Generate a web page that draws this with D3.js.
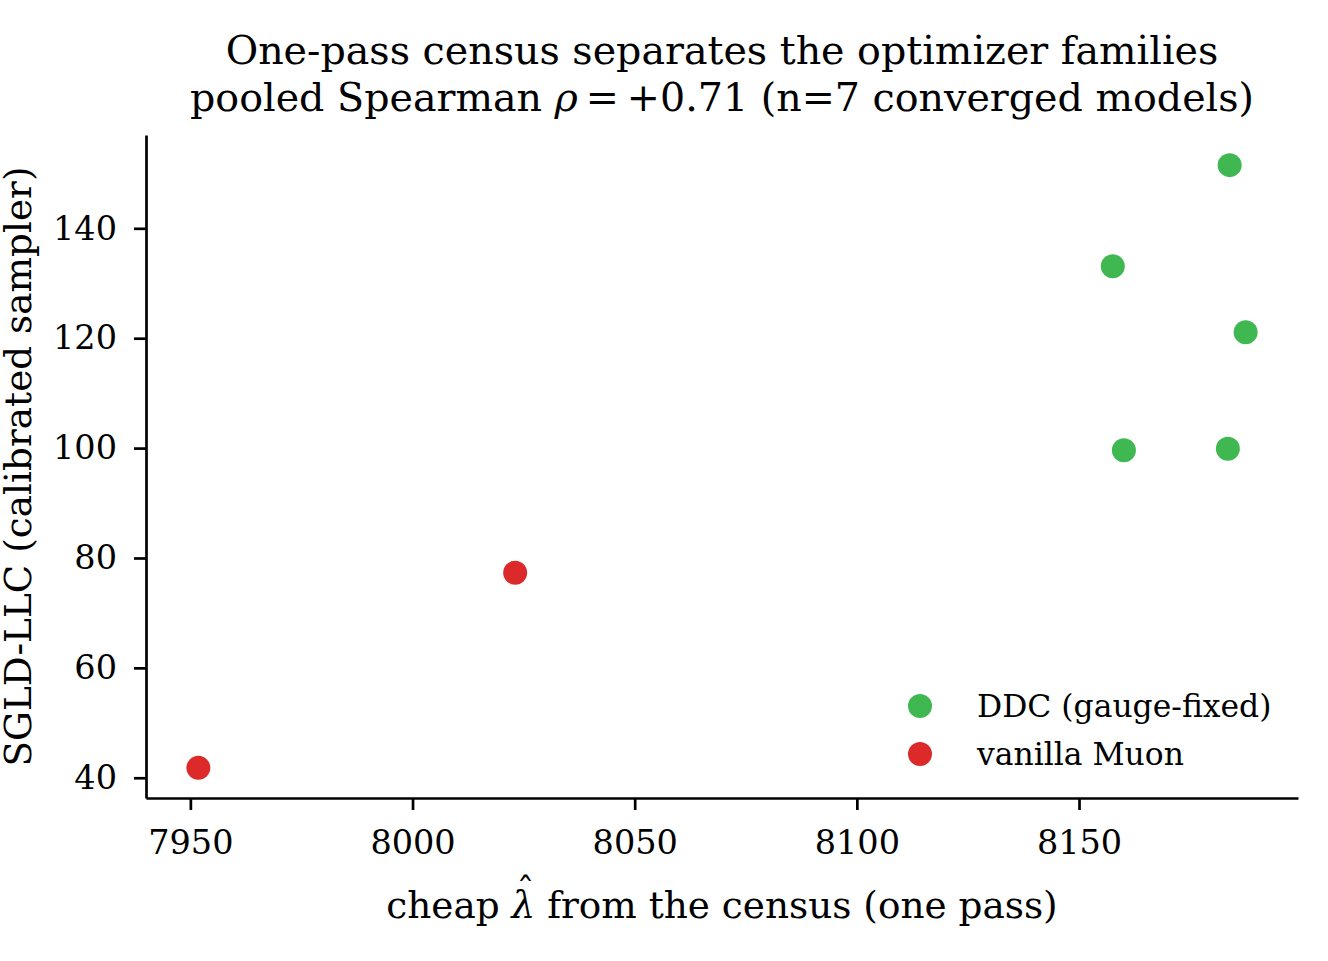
<!DOCTYPE html>
<html>
<head>
<meta charset="utf-8">
<script src="https://cdn.jsdelivr.net/npm/d3@7"></script>
<style>
  body { margin: 0; background: #fff; }
  text { font-family: "DejaVu Serif", serif; fill: #000; }
</style>
</head>
<body>
<div id="chart"></div>
<script>
// data
const GROUPS = ["DDC (gauge-fixed)", "vanilla Muon"];
const COLORS = ["#40b851", "#dc2a2a"];
const DDC_X = [8183.9, 8157.6, 8187.5, 8160.1, 8183.5];
const DDC_Y = [151.5, 133.1, 121.1, 99.6, 99.9];
const MUON_X = [8023.1, 7951.8];
const MUON_Y = [77.3, 41.8];
const X_TICKS = [7950, 8000, 8050, 8100, 8150];
const Y_TICKS = [40, 60, 80, 100, 120, 140];

const FRAME_WIDTH = 1328;
const FRAME_HEIGHT = 961;
const MARGINS = {left: 146, right: 30, top: 135, bottom: 163};
const VIS_WIDTH = FRAME_WIDTH - MARGINS.left - MARGINS.right;
const VIS_HEIGHT = FRAME_HEIGHT - MARGINS.top - MARGINS.bottom;

const points = [];
DDC_X.forEach((x, i) => points.push({x: x, y: DDC_Y[i], g: 0}));
MUON_X.forEach((x, i) => points.push({x: x, y: MUON_Y[i], g: 1}));

// matplotlib style 5% margins
function padded(ext) {
  const p = (ext[1] - ext[0]) * 0.05;
  return [ext[0] - p, ext[1] + p];
}

const X_SCALE = d3.scaleLinear()
                  .domain(padded(d3.extent(points, d => d.x)))
                  .range([0, VIS_WIDTH]);
const Y_SCALE = d3.scaleLinear()
                  .domain(padded(d3.extent(points, d => d.y)))
                  .range([VIS_HEIGHT, 0]);

const svg = d3.select("#chart")
              .append("svg")
                .attr("width", FRAME_WIDTH)
                .attr("height", FRAME_HEIGHT);

const plot = svg.append("g")
                .attr("transform", "translate(" + MARGINS.left + "," + MARGINS.top + ")");

// axes
const xAxis = plot.append("g")
    .attr("transform", "translate(0," + VIS_HEIGHT + ")")
    .call(d3.axisBottom(X_SCALE).tickValues(X_TICKS).tickSize(12).tickPadding(20).tickSizeOuter(0).tickFormat(d3.format("d")));
const yAxis = plot.append("g")
    .call(d3.axisLeft(Y_SCALE).tickValues(Y_TICKS).tickSize(12).tickPadding(17).tickSizeOuter(0).tickFormat(d3.format("d")));

[xAxis, yAxis].forEach(a => {
  a.select(".domain").attr("stroke", "#000").attr("stroke-width", 2.7);
  a.selectAll(".tick line").attr("stroke", "#000").attr("stroke-width", 2.7);
  a.selectAll(".tick text").attr("font-family", "DejaVu Serif").attr("font-size", 33.5);
});

// points
plot.append("g")
  .selectAll("circle")
  .data(points)
  .enter()
  .append("circle")
    .attr("cx", d => X_SCALE(d.x))
    .attr("cy", d => Y_SCALE(d.y))
    .attr("r", 12)
    .attr("fill", d => COLORS[d.g]);

// legend
const legend = plot.append("g")
    .attr("transform", "translate(" + (920 - MARGINS.left) + "," + (706 - MARGINS.top) + ")");
GROUPS.forEach((g, i) => {
  legend.append("circle")
      .attr("cx", 0).attr("cy", i * 48).attr("r", 12)
      .attr("fill", COLORS[i]);
  legend.append("text")
      .attr("x", 57).attr("y", i * 48)
      .attr("dy", "0.35em")
      .attr("font-size", 31.4)
      .text(g);
});

// title
const cx = MARGINS.left + VIS_WIDTH / 2;
svg.append("text")
    .attr("x", cx).attr("y", 64)
    .attr("text-anchor", "middle")
    .attr("font-size", 39.6)
    .text("One-pass census separates the optimizer families");
const t2 = svg.append("text")
    .attr("x", cx).attr("y", 111)
    .attr("text-anchor", "middle")
    .attr("font-size", 39.6);
t2.append("tspan").text("pooled Spearman ");
t2.append("tspan").attr("font-style", "italic").text("ρ");
t2.append("tspan").text("\u2009=\u2009+0.71 (n=7 converged models)");

// axis labels
const xl = svg.append("text")
    .attr("x", cx).attr("y", 918)
    .attr("text-anchor", "middle")
    .attr("font-size", 37.4);
xl.append("tspan").text("cheap ");
xl.append("tspan").attr("font-style", "italic").text("λ");
xl.append("tspan").text(" from the census (one pass)");

// hat over lambda, placed from the glyph's box
const lam = xl.node().getExtentOfChar(6);
svg.append("text")
    .attr("x", lam.x + lam.width / 2 + 2)
    .attr("y", lam.y + 20)
    .attr("text-anchor", "middle")
    .attr("font-size", 36)
    .text("\u02c6");

svg.append("text")
    .attr("transform", "translate(31," + (MARGINS.top + VIS_HEIGHT / 2) + ") rotate(-90)")
    .attr("text-anchor", "middle")
    .attr("font-size", 37.4)
    .text("SGLD-LLC (calibrated sampler)");
</script>
</body>
</html>
